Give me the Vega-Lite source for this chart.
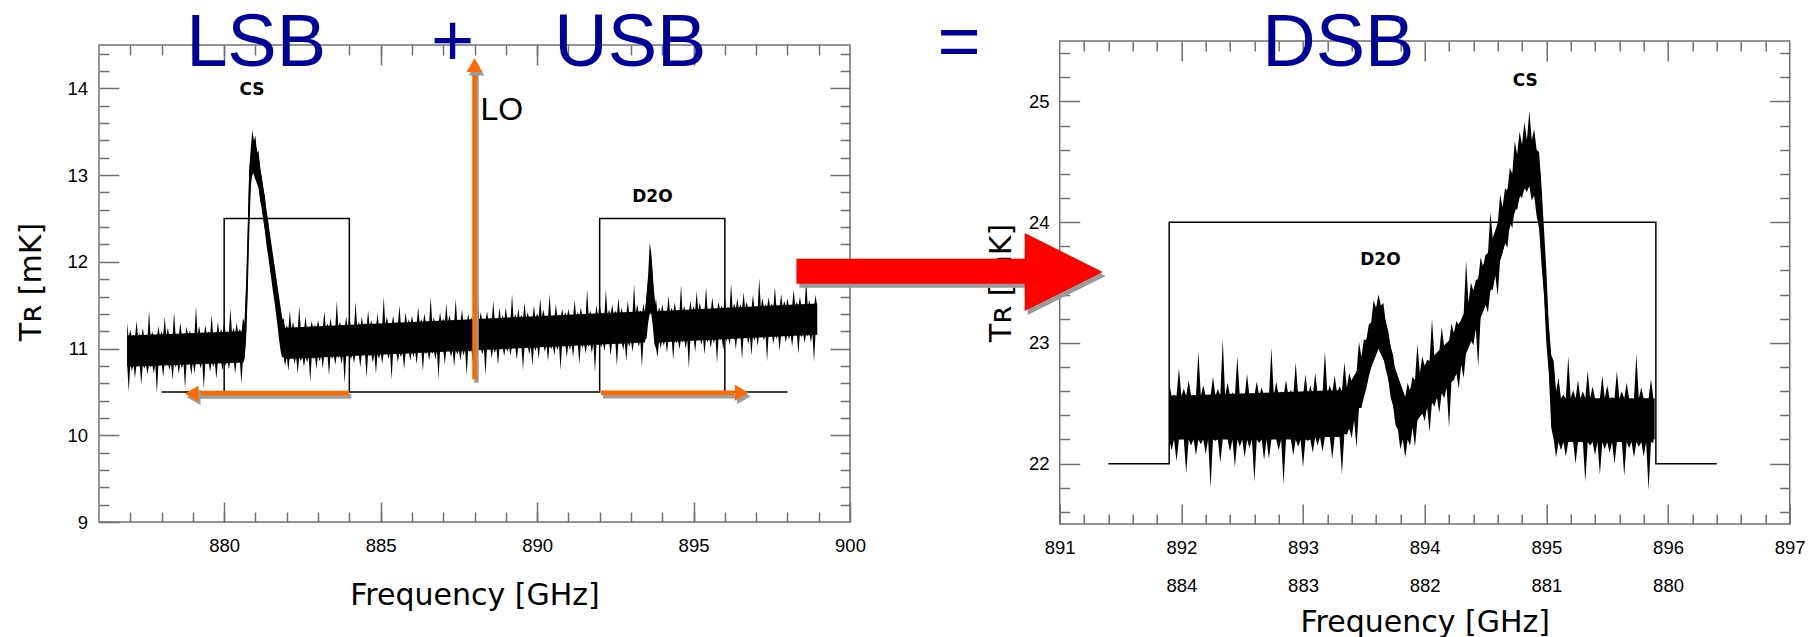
{
"$schema":"https://vega.github.io/schema/vega-lite/v6.json",
"background":"white",
"padding":{"left":16,"top":6,"right":0,"bottom":0},
"bounds":"flush",
"spacing":209.7,
"config":{
 "view":{"stroke":null},
 "axis":{"domain":false,"grid":false,"labelFont":"Liberation Sans","labelFontSize":18.5,"labelColor":"#000000","labelFlush":false,"labelOverlap":false,"tickColor":"#707070","tickWidth":1.5,"titleFont":"DejaVu Sans","titleFontSize":30,"titleFontWeight":"normal","titleColor":"#000000"}
},
"datasets":{
 "leftCore":[
{"f":876.9,"lo":10.79,"hi":11.15},{"f":880.62,"lo":10.84,"hi":11.2},{"f":880.66,"lo":10.9,"hi":11.3},{"f":880.72,"lo":11.35,"hi":11.85},{"f":880.8,"lo":12.55,"hi":13.05},{"f":880.86,"lo":12.95,"hi":13.3},{"f":880.95,"lo":13.05,"hi":13.42},{"f":881.1,"lo":12.88,"hi":13.22},{"f":881.85,"lo":11.02,"hi":11.36},{"f":881.95,"lo":10.88,"hi":11.24},{"f":893.45,"lo":11.07,"hi":11.43},{"f":893.55,"lo":11.45,"hi":11.8},{"f":893.63,"lo":11.7,"hi":12.1},{"f":893.7,"lo":11.4,"hi":11.8},{"f":893.8,"lo":11.07,"hi":11.43},{"f":898.95,"lo":11.16,"hi":11.52}
 ],
 "rightCore":[
{"f":891.9,"lo":22.2,"hi":22.56},{"f":893.35,"lo":22.25,"hi":22.61},{"f":893.45,"lo":22.42,"hi":22.78},{"f":893.55,"lo":22.77,"hi":23.13},{"f":893.62,"lo":22.95,"hi":23.31},{"f":893.68,"lo":22.82,"hi":23.18},{"f":893.75,"lo":22.44,"hi":22.81},{"f":893.84,"lo":22.19,"hi":22.55},{"f":893.95,"lo":22.38,"hi":22.74},{"f":894.1,"lo":22.54,"hi":22.92},{"f":894.2,"lo":22.64,"hi":23.02},{"f":894.3,"lo":22.81,"hi":23.19},{"f":894.4,"lo":23.06,"hi":23.44},{"f":894.5,"lo":23.31,"hi":23.69},{"f":894.6,"lo":23.61,"hi":23.99},{"f":894.7,"lo":23.96,"hi":24.34},{"f":894.8,"lo":24.26,"hi":24.64},{"f":894.86,"lo":24.31,"hi":24.69},{"f":894.92,"lo":24.18,"hi":24.56},{"f":894.95,"lo":23.89,"hi":24.41},{"f":894.98,"lo":23.44,"hi":23.81},{"f":895.01,"lo":22.94,"hi":23.26},{"f":895.05,"lo":22.34,"hi":22.71},{"f":895.1,"lo":22.2,"hi":22.54},{"f":895.89,"lo":22.2,"hi":22.54}
 ],
 "leftBand":[
{"f":876.9,"lo":10.82,"hi":11.3},{"f":876.95,"lo":10.5,"hi":11.12},
{"f":877,"lo":10.82,"hi":11.22},{"f":877.05,"lo":10.74,"hi":11.12},{"f":877.1,"lo":10.82,"hi":11.14},{"f":877.15,"lo":10.66,"hi":11.12},{"f":877.2,"lo":10.82,"hi":11.32},{"f":877.25,"lo":10.82,"hi":11.12},{"f":877.3,"lo":10.82,"hi":11.18},{"f":877.35,"lo":10.58,"hi":11.12},{"f":877.4,"lo":10.82,"hi":11.24},{"f":877.45,"lo":10.77,"hi":11.12},{"f":877.5,"lo":10.82,"hi":11.1},{"f":877.55,"lo":10.7,"hi":11.12},{"f":877.6,"lo":10.82,"hi":11.44},{"f":877.65,"lo":10.78,"hi":11.12},{"f":877.7,"lo":10.82,"hi":11.2},{"f":877.75,"lo":10.71,"hi":11.12},{"f":877.8,"lo":10.82,"hi":11.12},{"f":877.85,"lo":10.48,"hi":11.12},{"f":877.9,"lo":10.82,"hi":11.26},{"f":877.95,"lo":10.8,"hi":11.12},
{"f":878,"lo":10.84,"hi":11.2},{"f":878.05,"lo":10.67,"hi":11.14},{"f":878.1,"lo":10.84,"hi":11.37},{"f":878.15,"lo":10.84,"hi":11.14},{"f":878.2,"lo":10.84,"hi":11.24},{"f":878.25,"lo":10.75,"hi":11.14},{"f":878.3,"lo":10.84,"hi":11.17},{"f":878.35,"lo":10.64,"hi":11.14},{"f":878.4,"lo":10.84,"hi":11.42},{"f":878.45,"lo":10.78,"hi":11.14},{"f":878.5,"lo":10.84,"hi":11.15},{"f":878.55,"lo":10.71,"hi":11.14},{"f":878.6,"lo":10.84,"hi":11.3},{"f":878.65,"lo":10.77,"hi":11.14},{"f":878.7,"lo":10.84,"hi":11.14},{"f":878.75,"lo":10.54,"hi":11.14},{"f":878.8,"lo":10.84,"hi":11.25},{"f":878.85,"lo":10.81,"hi":11.14},{"f":878.9,"lo":10.84,"hi":11.21},{"f":878.95,"lo":10.69,"hi":11.14},
{"f":879,"lo":10.85,"hi":11.17},{"f":879.05,"lo":10.71,"hi":11.15},{"f":879.1,"lo":10.85,"hi":11.49},{"f":879.15,"lo":10.85,"hi":11.15},{"f":879.2,"lo":10.85,"hi":11.26},{"f":879.25,"lo":10.77,"hi":11.15},{"f":879.3,"lo":10.85,"hi":11.19},{"f":879.35,"lo":10.53,"hi":11.15},{"f":879.4,"lo":10.85,"hi":11.27},{"f":879.45,"lo":10.85,"hi":11.15},{"f":879.5,"lo":10.85,"hi":11.2},{"f":879.55,"lo":10.73,"hi":11.15},{"f":879.6,"lo":10.85,"hi":11.39},{"f":879.65,"lo":10.79,"hi":11.15},{"f":879.7,"lo":10.85,"hi":11.15},{"f":879.75,"lo":10.65,"hi":11.15},{"f":879.8,"lo":10.85,"hi":11.31},{"f":879.85,"lo":10.83,"hi":11.15},{"f":879.9,"lo":10.85,"hi":11.23},{"f":879.95,"lo":10.75,"hi":11.15},
{"f":880,"lo":10.87,"hi":11.32},{"f":880.05,"lo":10.8,"hi":11.17},{"f":880.1,"lo":10.87,"hi":11.2},{"f":880.15,"lo":10.76,"hi":11.17},{"f":880.2,"lo":10.87,"hi":11.47},{"f":880.25,"lo":10.87,"hi":11.17},{"f":880.3,"lo":10.87,"hi":11.24},{"f":880.35,"lo":10.71,"hi":11.17},{"f":880.4,"lo":10.87,"hi":11.3},{"f":880.45,"lo":10.86,"hi":11.17},{"f":880.5,"lo":10.87,"hi":11.23},{"f":880.55,"lo":10.59,"hi":11.17},
{"f":880.6,"lo":10.87,"hi":11.35},{"f":880.65,"lo":10.9,"hi":11.3},{"f":880.7,"lo":11.1,"hi":11.75},{"f":880.75,"lo":11.6,"hi":12.35},{"f":880.8,"lo":12.3,"hi":13.05},{"f":880.85,"lo":12.85,"hi":13.3},{"f":880.9,"lo":13.05,"hi":13.52},{"f":880.95,"lo":13.0,"hi":13.4},
{"f":881,"lo":12.95,"hi":13.45},{"f":881.05,"lo":12.9,"hi":13.25},{"f":881.1,"lo":12.85,"hi":13.28},{"f":881.15,"lo":12.7,"hi":13.05},{"f":881.2,"lo":12.62,"hi":12.98},{"f":881.25,"lo":12.48,"hi":12.85},{"f":881.3,"lo":12.36,"hi":12.76},{"f":881.35,"lo":12.2,"hi":12.58},{"f":881.4,"lo":12.08,"hi":12.48},{"f":881.45,"lo":11.95,"hi":12.3},{"f":881.5,"lo":11.82,"hi":12.2},{"f":881.55,"lo":11.68,"hi":12.05},{"f":881.6,"lo":11.56,"hi":11.97},{"f":881.65,"lo":11.42,"hi":11.8},{"f":881.7,"lo":11.28,"hi":11.7},{"f":881.75,"lo":11.12,"hi":11.55},{"f":881.8,"lo":10.98,"hi":11.45},{"f":881.85,"lo":10.9,"hi":11.32},{"f":881.9,"lo":10.9,"hi":11.35},{"f":881.95,"lo":10.8,"hi":11.21},
{"f":882,"lo":10.91,"hi":11.27},{"f":882.05,"lo":10.74,"hi":11.21},{"f":882.1,"lo":10.91,"hi":11.44},{"f":882.15,"lo":10.91,"hi":11.21},{"f":882.2,"lo":10.91,"hi":11.31},{"f":882.25,"lo":10.82,"hi":11.21},{"f":882.3,"lo":10.91,"hi":11.24},{"f":882.35,"lo":10.71,"hi":11.21},{"f":882.4,"lo":10.91,"hi":11.49},{"f":882.45,"lo":10.85,"hi":11.21},{"f":882.5,"lo":10.91,"hi":11.22},{"f":882.55,"lo":10.78,"hi":11.21},{"f":882.6,"lo":10.91,"hi":11.37},{"f":882.65,"lo":10.84,"hi":11.21},{"f":882.7,"lo":10.91,"hi":11.21},{"f":882.75,"lo":10.61,"hi":11.21},{"f":882.8,"lo":10.91,"hi":11.32},{"f":882.85,"lo":10.88,"hi":11.21},{"f":882.9,"lo":10.91,"hi":11.28},{"f":882.95,"lo":10.76,"hi":11.21},
{"f":883,"lo":10.93,"hi":11.33},{"f":883.05,"lo":10.85,"hi":11.23},{"f":883.1,"lo":10.93,"hi":11.25},{"f":883.15,"lo":10.77,"hi":11.23},{"f":883.2,"lo":10.93,"hi":11.43},{"f":883.25,"lo":10.93,"hi":11.23},{"f":883.3,"lo":10.93,"hi":11.29},{"f":883.35,"lo":10.69,"hi":11.23},{"f":883.4,"lo":10.93,"hi":11.35},{"f":883.45,"lo":10.88,"hi":11.23},{"f":883.5,"lo":10.93,"hi":11.23},{"f":883.55,"lo":10.81,"hi":11.23},{"f":883.6,"lo":10.93,"hi":11.55},{"f":883.65,"lo":10.89,"hi":11.23},{"f":883.7,"lo":10.93,"hi":11.31},{"f":883.75,"lo":10.82,"hi":11.23},{"f":883.8,"lo":10.93,"hi":11.23},{"f":883.85,"lo":10.59,"hi":11.23},{"f":883.9,"lo":10.93,"hi":11.37},{"f":883.95,"lo":10.91,"hi":11.23},
{"f":884,"lo":10.94,"hi":11.39},{"f":884.05,"lo":10.87,"hi":11.24},{"f":884.1,"lo":10.94,"hi":11.27},{"f":884.15,"lo":10.83,"hi":11.24},{"f":884.2,"lo":10.94,"hi":11.54},{"f":884.25,"lo":10.94,"hi":11.24},{"f":884.3,"lo":10.94,"hi":11.31},{"f":884.35,"lo":10.78,"hi":11.24},{"f":884.4,"lo":10.94,"hi":11.37},{"f":884.45,"lo":10.93,"hi":11.24},{"f":884.5,"lo":10.94,"hi":11.3},{"f":884.55,"lo":10.66,"hi":11.24},{"f":884.6,"lo":10.94,"hi":11.44},{"f":884.65,"lo":10.91,"hi":11.24},{"f":884.7,"lo":10.94,"hi":11.33},{"f":884.75,"lo":10.84,"hi":11.24},{"f":884.8,"lo":10.94,"hi":11.24},{"f":884.85,"lo":10.71,"hi":11.24},{"f":884.9,"lo":10.94,"hi":11.41},{"f":884.95,"lo":10.88,"hi":11.24},
{"f":885,"lo":10.96,"hi":11.28},{"f":885.05,"lo":10.82,"hi":11.26},{"f":885.1,"lo":10.96,"hi":11.6},{"f":885.15,"lo":10.96,"hi":11.26},{"f":885.2,"lo":10.96,"hi":11.37},{"f":885.25,"lo":10.88,"hi":11.26},{"f":885.3,"lo":10.96,"hi":11.3},{"f":885.35,"lo":10.64,"hi":11.26},{"f":885.4,"lo":10.96,"hi":11.38},{"f":885.45,"lo":10.96,"hi":11.26},{"f":885.5,"lo":10.96,"hi":11.31},{"f":885.55,"lo":10.84,"hi":11.26},{"f":885.6,"lo":10.96,"hi":11.5},{"f":885.65,"lo":10.9,"hi":11.26},{"f":885.7,"lo":10.96,"hi":11.26},{"f":885.75,"lo":10.76,"hi":11.26},{"f":885.8,"lo":10.96,"hi":11.42},{"f":885.85,"lo":10.94,"hi":11.26},{"f":885.9,"lo":10.96,"hi":11.34},{"f":885.95,"lo":10.86,"hi":11.26},
{"f":886,"lo":10.98,"hi":11.38},{"f":886.05,"lo":10.9,"hi":11.28},{"f":886.1,"lo":10.98,"hi":11.3},{"f":886.15,"lo":10.82,"hi":11.28},{"f":886.2,"lo":10.98,"hi":11.48},{"f":886.25,"lo":10.98,"hi":11.28},{"f":886.3,"lo":10.98,"hi":11.34},{"f":886.35,"lo":10.74,"hi":11.28},{"f":886.4,"lo":10.98,"hi":11.4},{"f":886.45,"lo":10.93,"hi":11.28},{"f":886.5,"lo":10.98,"hi":11.28},{"f":886.55,"lo":10.86,"hi":11.28},{"f":886.6,"lo":10.98,"hi":11.6},{"f":886.65,"lo":10.94,"hi":11.28},{"f":886.7,"lo":10.98,"hi":11.36},{"f":886.75,"lo":10.87,"hi":11.28},{"f":886.8,"lo":10.98,"hi":11.28},{"f":886.85,"lo":10.64,"hi":11.28},{"f":886.9,"lo":10.98,"hi":11.42},{"f":886.95,"lo":10.96,"hi":11.28},
{"f":887,"lo":10.99,"hi":11.35},{"f":887.05,"lo":10.82,"hi":11.29},{"f":887.1,"lo":10.99,"hi":11.52},{"f":887.15,"lo":10.99,"hi":11.29},{"f":887.2,"lo":10.99,"hi":11.39},{"f":887.25,"lo":10.9,"hi":11.29},{"f":887.3,"lo":10.99,"hi":11.32},{"f":887.35,"lo":10.79,"hi":11.29},{"f":887.4,"lo":10.99,"hi":11.57},{"f":887.45,"lo":10.93,"hi":11.29},{"f":887.5,"lo":10.99,"hi":11.3},{"f":887.55,"lo":10.86,"hi":11.29},{"f":887.6,"lo":10.99,"hi":11.45},{"f":887.65,"lo":10.92,"hi":11.29},{"f":887.7,"lo":10.99,"hi":11.29},{"f":887.75,"lo":10.69,"hi":11.29},{"f":887.8,"lo":10.99,"hi":11.4},{"f":887.85,"lo":10.96,"hi":11.29},{"f":887.9,"lo":10.99,"hi":11.36},{"f":887.95,"lo":10.84,"hi":11.29},
{"f":888,"lo":11.01,"hi":11.33},{"f":888.05,"lo":10.87,"hi":11.31},{"f":888.1,"lo":11.01,"hi":11.65},{"f":888.15,"lo":11.01,"hi":11.31},{"f":888.2,"lo":11.01,"hi":11.42},{"f":888.25,"lo":10.93,"hi":11.31},{"f":888.3,"lo":11.01,"hi":11.35},{"f":888.35,"lo":10.69,"hi":11.31},{"f":888.4,"lo":11.01,"hi":11.43},{"f":888.45,"lo":11.01,"hi":11.31},{"f":888.5,"lo":11.01,"hi":11.36},{"f":888.55,"lo":10.89,"hi":11.31},{"f":888.6,"lo":11.01,"hi":11.55},{"f":888.65,"lo":10.95,"hi":11.31},{"f":888.7,"lo":11.01,"hi":11.31},{"f":888.75,"lo":10.81,"hi":11.31},{"f":888.8,"lo":11.01,"hi":11.47},{"f":888.85,"lo":10.99,"hi":11.31},{"f":888.9,"lo":11.01,"hi":11.39},{"f":888.95,"lo":10.91,"hi":11.31},
{"f":889,"lo":11.03,"hi":11.48},{"f":889.05,"lo":10.96,"hi":11.33},{"f":889.1,"lo":11.03,"hi":11.36},{"f":889.15,"lo":10.92,"hi":11.33},{"f":889.2,"lo":11.03,"hi":11.63},{"f":889.25,"lo":11.03,"hi":11.33},{"f":889.3,"lo":11.03,"hi":11.4},{"f":889.35,"lo":10.87,"hi":11.33},{"f":889.4,"lo":11.03,"hi":11.46},{"f":889.45,"lo":11.02,"hi":11.33},{"f":889.5,"lo":11.03,"hi":11.39},{"f":889.55,"lo":10.75,"hi":11.33},{"f":889.6,"lo":11.03,"hi":11.53},{"f":889.65,"lo":11.0,"hi":11.33},{"f":889.7,"lo":11.03,"hi":11.42},{"f":889.75,"lo":10.93,"hi":11.33},{"f":889.8,"lo":11.03,"hi":11.33},{"f":889.85,"lo":10.8,"hi":11.33},{"f":889.9,"lo":11.03,"hi":11.5},{"f":889.95,"lo":10.97,"hi":11.33},
{"f":890,"lo":11.05,"hi":11.41},{"f":890.05,"lo":10.88,"hi":11.35},{"f":890.1,"lo":11.05,"hi":11.58},{"f":890.15,"lo":11.05,"hi":11.35},{"f":890.2,"lo":11.05,"hi":11.45},{"f":890.25,"lo":10.96,"hi":11.35},{"f":890.3,"lo":11.05,"hi":11.38},{"f":890.35,"lo":10.85,"hi":11.35},{"f":890.4,"lo":11.05,"hi":11.63},{"f":890.45,"lo":10.99,"hi":11.35},{"f":890.5,"lo":11.05,"hi":11.36},{"f":890.55,"lo":10.92,"hi":11.35},{"f":890.6,"lo":11.05,"hi":11.51},{"f":890.65,"lo":10.98,"hi":11.35},{"f":890.7,"lo":11.05,"hi":11.35},{"f":890.75,"lo":10.75,"hi":11.35},{"f":890.8,"lo":11.05,"hi":11.46},{"f":890.85,"lo":11.02,"hi":11.35},{"f":890.9,"lo":11.05,"hi":11.42},{"f":890.95,"lo":10.9,"hi":11.35},
{"f":891,"lo":11.06,"hi":11.46},{"f":891.05,"lo":10.98,"hi":11.36},{"f":891.1,"lo":11.06,"hi":11.38},{"f":891.15,"lo":10.9,"hi":11.36},{"f":891.2,"lo":11.06,"hi":11.56},{"f":891.25,"lo":11.06,"hi":11.36},{"f":891.3,"lo":11.06,"hi":11.42},{"f":891.35,"lo":10.82,"hi":11.36},{"f":891.4,"lo":11.06,"hi":11.48},{"f":891.45,"lo":11.01,"hi":11.36},{"f":891.5,"lo":11.06,"hi":11.36},{"f":891.55,"lo":10.94,"hi":11.36},{"f":891.6,"lo":11.06,"hi":11.68},{"f":891.65,"lo":11.02,"hi":11.36},{"f":891.7,"lo":11.06,"hi":11.44},{"f":891.75,"lo":10.95,"hi":11.36},{"f":891.8,"lo":11.06,"hi":11.36},{"f":891.85,"lo":10.72,"hi":11.36},{"f":891.9,"lo":11.06,"hi":11.5},{"f":891.95,"lo":11.04,"hi":11.36},
{"f":892,"lo":11.08,"hi":11.53},{"f":892.05,"lo":11.01,"hi":11.38},{"f":892.1,"lo":11.08,"hi":11.41},{"f":892.15,"lo":10.97,"hi":11.38},{"f":892.2,"lo":11.08,"hi":11.68},{"f":892.25,"lo":11.08,"hi":11.38},{"f":892.3,"lo":11.08,"hi":11.45},{"f":892.35,"lo":10.92,"hi":11.38},{"f":892.4,"lo":11.08,"hi":11.51},{"f":892.45,"lo":11.07,"hi":11.38},{"f":892.5,"lo":11.08,"hi":11.44},{"f":892.55,"lo":10.8,"hi":11.38},{"f":892.6,"lo":11.08,"hi":11.58},{"f":892.65,"lo":11.05,"hi":11.38},{"f":892.7,"lo":11.08,"hi":11.47},{"f":892.75,"lo":10.98,"hi":11.38},{"f":892.8,"lo":11.08,"hi":11.38},{"f":892.85,"lo":10.85,"hi":11.38},{"f":892.9,"lo":11.08,"hi":11.55},{"f":892.95,"lo":11.02,"hi":11.38},
{"f":893,"lo":11.1,"hi":11.42},{"f":893.05,"lo":10.96,"hi":11.4},{"f":893.1,"lo":11.1,"hi":11.74},{"f":893.15,"lo":11.1,"hi":11.4},{"f":893.2,"lo":11.1,"hi":11.51},{"f":893.25,"lo":11.02,"hi":11.4},{"f":893.3,"lo":11.1,"hi":11.44},{"f":893.35,"lo":10.78,"hi":11.4},{"f":893.4,"lo":11.1,"hi":11.52},{"f":893.45,"lo":11.1,"hi":11.4},{"f":893.5,"lo":11.12,"hi":11.62},{"f":893.55,"lo":11.3,"hi":11.85},{"f":893.6,"lo":11.4,"hi":12.22},{"f":893.65,"lo":11.4,"hi":12.1},{"f":893.7,"lo":11.25,"hi":11.85},{"f":893.75,"lo":11.05,"hi":11.45},{"f":893.8,"lo":11.0,"hi":11.58},{"f":893.85,"lo":10.9,"hi":11.4},{"f":893.9,"lo":11.1,"hi":11.48},{"f":893.95,"lo":11.0,"hi":11.4},
{"f":894,"lo":11.11,"hi":11.51},{"f":894.05,"lo":11.03,"hi":11.41},{"f":894.1,"lo":11.11,"hi":11.43},{"f":894.15,"lo":10.95,"hi":11.41},{"f":894.2,"lo":11.11,"hi":11.61},{"f":894.25,"lo":11.11,"hi":11.41},{"f":894.3,"lo":11.11,"hi":11.47},{"f":894.35,"lo":10.87,"hi":11.41},{"f":894.4,"lo":11.11,"hi":11.53},{"f":894.45,"lo":11.06,"hi":11.41},{"f":894.5,"lo":11.11,"hi":11.41},{"f":894.55,"lo":10.99,"hi":11.41},{"f":894.6,"lo":11.11,"hi":11.73},{"f":894.65,"lo":11.07,"hi":11.41},{"f":894.7,"lo":11.11,"hi":11.49},{"f":894.75,"lo":11.0,"hi":11.41},{"f":894.8,"lo":11.11,"hi":11.41},{"f":894.85,"lo":10.77,"hi":11.41},{"f":894.9,"lo":11.11,"hi":11.55},{"f":894.95,"lo":11.09,"hi":11.41},
{"f":895,"lo":11.13,"hi":11.49},{"f":895.05,"lo":10.96,"hi":11.43},{"f":895.1,"lo":11.13,"hi":11.66},{"f":895.15,"lo":11.13,"hi":11.43},{"f":895.2,"lo":11.13,"hi":11.53},{"f":895.25,"lo":11.04,"hi":11.43},{"f":895.3,"lo":11.13,"hi":11.46},{"f":895.35,"lo":10.93,"hi":11.43},{"f":895.4,"lo":11.13,"hi":11.71},{"f":895.45,"lo":11.07,"hi":11.43},{"f":895.5,"lo":11.13,"hi":11.44},{"f":895.55,"lo":11.0,"hi":11.43},{"f":895.6,"lo":11.13,"hi":11.59},{"f":895.65,"lo":11.06,"hi":11.43},{"f":895.7,"lo":11.13,"hi":11.43},{"f":895.75,"lo":10.83,"hi":11.43},{"f":895.8,"lo":11.13,"hi":11.54},{"f":895.85,"lo":11.1,"hi":11.43},{"f":895.9,"lo":11.13,"hi":11.5},{"f":895.95,"lo":10.98,"hi":11.43},
{"f":896,"lo":11.15,"hi":11.6},{"f":896.05,"lo":11.08,"hi":11.45},{"f":896.1,"lo":11.15,"hi":11.48},{"f":896.15,"lo":11.04,"hi":11.45},{"f":896.2,"lo":11.15,"hi":11.75},{"f":896.25,"lo":11.15,"hi":11.45},{"f":896.3,"lo":11.15,"hi":11.52},{"f":896.35,"lo":10.99,"hi":11.45},{"f":896.4,"lo":11.15,"hi":11.58},{"f":896.45,"lo":11.14,"hi":11.45},{"f":896.5,"lo":11.15,"hi":11.51},{"f":896.55,"lo":10.87,"hi":11.45},{"f":896.6,"lo":11.15,"hi":11.65},{"f":896.65,"lo":11.12,"hi":11.45},{"f":896.7,"lo":11.15,"hi":11.54},{"f":896.75,"lo":11.05,"hi":11.45},{"f":896.8,"lo":11.15,"hi":11.45},{"f":896.85,"lo":10.92,"hi":11.45},{"f":896.9,"lo":11.15,"hi":11.62},{"f":896.95,"lo":11.09,"hi":11.45},
{"f":897,"lo":11.17,"hi":11.49},{"f":897.05,"lo":11.03,"hi":11.47},{"f":897.1,"lo":11.17,"hi":11.81},{"f":897.15,"lo":11.17,"hi":11.47},{"f":897.2,"lo":11.17,"hi":11.58},{"f":897.25,"lo":11.09,"hi":11.47},{"f":897.3,"lo":11.17,"hi":11.51},{"f":897.35,"lo":10.85,"hi":11.47},{"f":897.4,"lo":11.17,"hi":11.59},{"f":897.45,"lo":11.17,"hi":11.47},{"f":897.5,"lo":11.17,"hi":11.52},{"f":897.55,"lo":11.05,"hi":11.47},{"f":897.6,"lo":11.17,"hi":11.71},{"f":897.65,"lo":11.11,"hi":11.47},{"f":897.7,"lo":11.17,"hi":11.47},{"f":897.75,"lo":10.97,"hi":11.47},{"f":897.8,"lo":11.17,"hi":11.63},{"f":897.85,"lo":11.15,"hi":11.47},{"f":897.9,"lo":11.17,"hi":11.55},{"f":897.95,"lo":11.07,"hi":11.47},
{"f":898,"lo":11.18,"hi":11.58},{"f":898.05,"lo":11.1,"hi":11.48},{"f":898.1,"lo":11.18,"hi":11.5},{"f":898.15,"lo":11.02,"hi":11.48},{"f":898.2,"lo":11.18,"hi":11.68},{"f":898.25,"lo":11.18,"hi":11.48},{"f":898.3,"lo":11.18,"hi":11.54},{"f":898.35,"lo":10.94,"hi":11.48},{"f":898.4,"lo":11.18,"hi":11.6},{"f":898.45,"lo":11.13,"hi":11.48},{"f":898.5,"lo":11.18,"hi":11.48},{"f":898.55,"lo":11.06,"hi":11.48},{"f":898.6,"lo":11.18,"hi":11.8},{"f":898.65,"lo":11.14,"hi":11.48},{"f":898.7,"lo":11.18,"hi":11.56},{"f":898.75,"lo":11.07,"hi":11.48},{"f":898.8,"lo":11.18,"hi":11.48},{"f":898.85,"lo":10.84,"hi":11.48},{"f":898.9,"lo":11.18,"hi":11.62},{"f":898.95,"lo":11.16,"hi":11.48}
 ],
 "rightBand":[
{"f":891.9,"lo":22.2,"hi":22.67},{"f":891.92,"lo":22.11,"hi":22.56},{"f":891.94,"lo":22.2,"hi":22.57},{"f":891.96,"lo":22.02,"hi":22.56},{"f":891.98,"lo":22.2,"hi":22.79},{"f":892,"lo":22.2,"hi":22.56},{"f":892.02,"lo":22.2,"hi":22.62},{"f":892.04,"lo":21.92,"hi":22.56},{"f":892.06,"lo":22.2,"hi":22.69},{"f":892.08,"lo":22.15,"hi":22.56},{"f":892.1,"lo":22.2,"hi":22.56},{"f":892.12,"lo":22.07,"hi":22.56},{"f":892.14,"lo":22.2,"hi":22.93},{"f":892.16,"lo":22.16,"hi":22.56},{"f":892.18,"lo":22.2,"hi":22.65},{"f":892.2,"lo":22.08,"hi":22.56},{"f":892.22,"lo":22.2,"hi":22.56},{"f":892.24,"lo":21.8,"hi":22.56},{"f":892.26,"lo":22.2,"hi":22.72},{"f":892.28,"lo":22.19,"hi":22.56},
{"f":892.3,"lo":22.2,"hi":22.62},{"f":892.32,"lo":22.01,"hi":22.56},{"f":892.34,"lo":22.2,"hi":23.03},{"f":892.36,"lo":22.2,"hi":22.56},{"f":892.38,"lo":22.2,"hi":22.67},{"f":892.4,"lo":22.1,"hi":22.56},{"f":892.42,"lo":22.2,"hi":22.59},{"f":892.44,"lo":21.97,"hi":22.56},{"f":892.46,"lo":22.2,"hi":22.89},{"f":892.48,"lo":22.14,"hi":22.56},{"f":892.5,"lo":22.2,"hi":22.56},{"f":892.52,"lo":22.05,"hi":22.56},{"f":892.54,"lo":22.2,"hi":22.74},{"f":892.56,"lo":22.13,"hi":22.56},{"f":892.58,"lo":22.2,"hi":22.56},{"f":892.6,"lo":21.85,"hi":22.56},{"f":892.62,"lo":22.2,"hi":22.68},{"f":892.64,"lo":22.17,"hi":22.56},{"f":892.66,"lo":22.2,"hi":22.63},{"f":892.68,"lo":22.03,"hi":22.56},
{"f":892.7,"lo":22.2,"hi":22.57},{"f":892.72,"lo":22.04,"hi":22.56},{"f":892.74,"lo":22.2,"hi":22.96},{"f":892.76,"lo":22.2,"hi":22.56},{"f":892.78,"lo":22.2,"hi":22.68},{"f":892.8,"lo":22.11,"hi":22.56},{"f":892.82,"lo":22.2,"hi":22.6},{"f":892.84,"lo":21.83,"hi":22.56},{"f":892.86,"lo":22.2,"hi":22.69},{"f":892.88,"lo":22.2,"hi":22.56},{"f":892.9,"lo":22.2,"hi":22.61},{"f":892.92,"lo":22.07,"hi":22.56},{"f":892.94,"lo":22.2,"hi":22.84},{"f":892.96,"lo":22.14,"hi":22.56},{"f":892.98,"lo":22.2,"hi":22.56},{"f":893,"lo":21.97,"hi":22.56},{"f":893.02,"lo":22.2,"hi":22.74},{"f":893.04,"lo":22.19,"hi":22.56},{"f":893.06,"lo":22.2,"hi":22.65},{"f":893.08,"lo":22.09,"hi":22.56},
{"f":893.1,"lo":22.22,"hi":22.75},{"f":893.12,"lo":22.15,"hi":22.58},{"f":893.14,"lo":22.22,"hi":22.61},{"f":893.16,"lo":22.1,"hi":22.58},{"f":893.18,"lo":22.22,"hi":22.93},{"f":893.2,"lo":22.22,"hi":22.58},{"f":893.22,"lo":22.22,"hi":22.65},{"f":893.24,"lo":22.04,"hi":22.58},{"f":893.26,"lo":22.22,"hi":22.73},{"f":893.28,"lo":22.22,"hi":22.58},{"f":893.3,"lo":22.22,"hi":22.64},{"f":893.32,"lo":21.91,"hi":22.6},{"f":893.34,"lo":22.25,"hi":22.84},{"f":893.36,"lo":22.24,"hi":22.63},{"f":893.38,"lo":22.29,"hi":22.75},{"f":893.4,"lo":22.21,"hi":22.68},{"f":893.42,"lo":22.36,"hi":22.72},{"f":893.44,"lo":22.13,"hi":22.76},{"f":893.46,"lo":22.46,"hi":23.01},{"f":893.48,"lo":22.46,"hi":22.88},
{"f":893.5,"lo":22.55,"hi":23.03},{"f":893.52,"lo":22.62,"hi":23.02},{"f":893.54,"lo":22.72,"hi":23.15},{"f":893.56,"lo":22.8,"hi":23.17},{"f":893.58,"lo":22.88,"hi":23.35},{"f":893.6,"lo":22.92,"hi":23.29},{"f":893.62,"lo":22.96,"hi":23.4},{"f":893.64,"lo":22.93,"hi":23.31},{"f":893.66,"lo":22.88,"hi":23.33},{"f":893.68,"lo":22.78,"hi":23.17},{"f":893.7,"lo":22.7,"hi":23.1},{"f":893.72,"lo":22.55,"hi":22.97},{"f":893.74,"lo":22.48,"hi":22.9},{"f":893.76,"lo":22.32,"hi":22.74},{"f":893.78,"lo":22.28,"hi":22.7},{"f":893.8,"lo":22.12,"hi":22.6},{"f":893.82,"lo":22.2,"hi":22.6},{"f":893.84,"lo":22.05,"hi":22.55},{"f":893.86,"lo":22.2,"hi":22.67},{"f":893.88,"lo":22.15,"hi":22.6},
{"f":893.9,"lo":22.3,"hi":22.72},{"f":893.92,"lo":22.14,"hi":22.69},{"f":893.94,"lo":22.36,"hi":22.99},{"f":893.96,"lo":22.39,"hi":22.75},{"f":893.98,"lo":22.42,"hi":22.89},{"f":894,"lo":22.35,"hi":22.81},{"f":894.02,"lo":22.47,"hi":22.86},{"f":894.04,"lo":22.26,"hi":22.85},{"f":894.06,"lo":22.51,"hi":23.2},{"f":894.08,"lo":22.47,"hi":22.89},{"f":894.1,"lo":22.55,"hi":22.91},{"f":894.12,"lo":22.42,"hi":22.93},{"f":894.14,"lo":22.59,"hi":23.13},{"f":894.16,"lo":22.54,"hi":22.97},{"f":894.18,"lo":22.63,"hi":22.99},{"f":894.2,"lo":22.3,"hi":23.01},{"f":894.22,"lo":22.68,"hi":23.16},{"f":894.24,"lo":22.69,"hi":23.08},{"f":894.26,"lo":22.75,"hi":23.18},{"f":894.28,"lo":22.62,"hi":23.15},
{"f":894.3,"lo":22.82,"hi":23.19},{"f":894.32,"lo":22.71,"hi":23.23},{"f":894.34,"lo":22.92,"hi":23.68},{"f":894.36,"lo":22.97,"hi":23.33},{"f":894.38,"lo":23.02,"hi":23.5},{"f":894.4,"lo":22.98,"hi":23.43},{"f":894.42,"lo":23.12,"hi":23.52},{"f":894.44,"lo":22.8,"hi":23.53},{"f":894.46,"lo":23.22,"hi":23.71},{"f":894.48,"lo":23.27,"hi":23.63},{"f":894.5,"lo":23.32,"hi":23.73},{"f":894.52,"lo":23.25,"hi":23.74},{"f":894.54,"lo":23.44,"hi":24.08},{"f":894.56,"lo":23.44,"hi":23.86},{"f":894.58,"lo":23.56,"hi":23.92},{"f":894.6,"lo":23.39,"hi":23.98},{"f":894.62,"lo":23.69,"hi":24.23},{"f":894.64,"lo":23.75,"hi":24.12},{"f":894.66,"lo":23.83,"hi":24.28},{"f":894.68,"lo":23.79,"hi":24.26},
{"f":894.7,"lo":24.0,"hi":24.45},{"f":894.72,"lo":23.95,"hi":24.4},{"f":894.74,"lo":24.12,"hi":24.67},{"f":894.76,"lo":24.1,"hi":24.56},{"f":894.78,"lo":24.22,"hi":24.75},{"f":894.8,"lo":24.2,"hi":24.64},{"f":894.82,"lo":24.28,"hi":24.83},{"f":894.84,"lo":24.25,"hi":24.68},{"f":894.86,"lo":24.3,"hi":24.92},{"f":894.88,"lo":24.18,"hi":24.68},{"f":894.9,"lo":24.22,"hi":24.77},{"f":894.92,"lo":24.05,"hi":24.6},{"f":894.94,"lo":23.95,"hi":24.58},{"f":894.96,"lo":23.65,"hi":24.3},{"f":894.98,"lo":23.4,"hi":23.95},{"f":895,"lo":23.0,"hi":23.6},{"f":895.02,"lo":22.75,"hi":23.15},{"f":895.04,"lo":22.3,"hi":22.9},{"f":895.06,"lo":22.2,"hi":22.85},{"f":895.08,"lo":22.05,"hi":22.6},
{"f":895.1,"lo":22.18,"hi":22.71},{"f":895.12,"lo":22.11,"hi":22.54},{"f":895.14,"lo":22.18,"hi":22.57},{"f":895.16,"lo":22.06,"hi":22.54},{"f":895.18,"lo":22.18,"hi":22.89},{"f":895.2,"lo":22.18,"hi":22.54},{"f":895.22,"lo":22.18,"hi":22.61},{"f":895.24,"lo":22.0,"hi":22.54},{"f":895.26,"lo":22.18,"hi":22.69},{"f":895.28,"lo":22.18,"hi":22.54},{"f":895.3,"lo":22.18,"hi":22.6},{"f":895.32,"lo":21.85,"hi":22.54},{"f":895.34,"lo":22.18,"hi":22.77},{"f":895.36,"lo":22.15,"hi":22.54},{"f":895.38,"lo":22.18,"hi":22.64},{"f":895.4,"lo":22.07,"hi":22.54},{"f":895.42,"lo":22.18,"hi":22.54},{"f":895.44,"lo":21.91,"hi":22.54},{"f":895.46,"lo":22.18,"hi":22.73},{"f":895.48,"lo":22.12,"hi":22.54},
{"f":895.5,"lo":22.18,"hi":22.65},{"f":895.52,"lo":22.09,"hi":22.54},{"f":895.54,"lo":22.18,"hi":22.55},{"f":895.56,"lo":22.0,"hi":22.54},{"f":895.58,"lo":22.18,"hi":22.77},{"f":895.6,"lo":22.18,"hi":22.54},{"f":895.62,"lo":22.18,"hi":22.6},{"f":895.64,"lo":21.9,"hi":22.54},{"f":895.66,"lo":22.18,"hi":22.67},{"f":895.68,"lo":22.13,"hi":22.54},{"f":895.7,"lo":22.18,"hi":22.54},{"f":895.72,"lo":22.05,"hi":22.54},{"f":895.74,"lo":22.18,"hi":22.91},{"f":895.76,"lo":22.14,"hi":22.54},{"f":895.78,"lo":22.18,"hi":22.63},{"f":895.8,"lo":22.06,"hi":22.54},{"f":895.82,"lo":22.18,"hi":22.54},{"f":895.84,"lo":21.78,"hi":22.54},{"f":895.86,"lo":22.18,"hi":22.7},{"f":895.88,"lo":22.17,"hi":22.54}
 ],
 "leftBox":[
{"i":0,"f":878,"t":10.5},{"i":1,"f":880,"t":10.5},{"i":2,"f":880,"t":12.5},{"i":3,"f":884,"t":12.5},{"i":4,"f":884,"t":10.5},{"i":5,"f":892,"t":10.5},{"i":6,"f":892,"t":12.5},{"i":7,"f":896,"t":12.5},{"i":8,"f":896,"t":10.5},{"i":9,"f":898,"t":10.5}
 ],
 "rightBox":[
{"i":0,"f":891.4,"t":22},{"i":1,"f":891.9,"t":22},{"i":2,"f":891.9,"t":24},{"i":3,"f":895.9,"t":24},{"i":4,"f":895.9,"t":22},{"i":5,"f":896.4,"t":22}
 ],
 "leftArrows":[
{"f":888,"f2":888,"t":10.645,"t2":14.2},{"f":879.15,"f2":884.0,"t":10.487,"t2":10.487},{"f":892.04,"f2":896.3,"t":10.49,"t2":10.49}
 ],
 "leftHeads":[
{"f":888,"t":14.267,"dir":"up"},{"f":878.96,"t":10.48,"dir":"left"},{"f":896.54,"t":10.49,"dir":"right"}
 ],
 "redShaft":[{"f":888.836,"f2":890.72,"t":23.49,"t2":23.697}],
 "redHead":[{"f":891.033,"t":23.587}]
},
"hconcat":[
{
 "width":751,"height":481,
 "resolve":{"axis":{"x":"independent","y":"independent"}},
 "layer":[
  {"data":{"values":[{"f":876,"f2":900,"t":9,"t2":14.5}]},
   "mark":{"type":"rect","filled":false,"stroke":"#707070","strokeWidth":1.5},
   "encoding":{
    "x":{"field":"f","type":"quantitative","scale":{"domain":[876,900],"nice":false,"zero":false},"axis":{"orient":"bottom","values":[880,885,890,895,900],"ticks":false,"labelPadding":14,"title":"Frequency [GHz]","titlePadding":26}},
    "x2":{"field":"f2"},
    "y":{"field":"t","type":"quantitative","scale":{"domain":[9,14.546],"nice":false,"zero":false},"axis":{"orient":"left","values":[9,10,11,12,13,14],"ticks":false,"labelPadding":11.5,"title":"Tʀ  [mK]","titlePadding":20}},
    "y2":{"field":"t2"}}},
  {"data":{"name":"leftCore"},
   "mark":{"type":"area","color":"#000000","opacity":1},
   "encoding":{
    "x":{"field":"f","type":"quantitative","scale":{"domain":[876,900],"nice":false,"zero":false},"axis":null},
    "y":{"field":"lo","type":"quantitative","scale":{"domain":[9,14.546],"nice":false,"zero":false},"axis":null},
    "y2":{"field":"hi"}}},
  {"data":{"name":"leftBand"},
   "mark":{"type":"area","color":"#000000","opacity":1},
   "encoding":{
    "x":{"field":"f","type":"quantitative","scale":{"domain":[876,900],"nice":false,"zero":false},"axis":{"orient":"bottom","values":[880,885,890,895,900],"labels":false,"tickSize":-20,"title":null}},
    "y":{"field":"lo","type":"quantitative","scale":{"domain":[9,14.546],"nice":false,"zero":false},"axis":{"orient":"left","values":[9,10,11,12,13,14],"labels":false,"tickSize":-20,"title":null}},
    "y2":{"field":"hi"}}},
  {"data":{"name":"leftBox"},
   "mark":{"type":"line","color":"#000000","strokeWidth":1.5},
   "encoding":{
    "x":{"field":"f","type":"quantitative","scale":{"domain":[876,900],"nice":false,"zero":false},"axis":{"orient":"top","offset":-4,"values":[880,885,890,895],"labels":false,"tickSize":-20,"title":null}},
    "y":{"field":"t","type":"quantitative","scale":{"domain":[9,14.546],"nice":false,"zero":false},"axis":{"orient":"right","values":[10,11,12,13,14],"labels":false,"tickSize":-20,"title":null}},
    "order":{"field":"i","type":"quantitative"}}},
  {"data":{"name":"leftArrows"},
   "mark":{"type":"rule","color":"#9c9c9c","strokeWidth":4.5,"xOffset":2,"x2Offset":2,"yOffset":3.5,"y2Offset":3.5},
   "encoding":{
    "x":{"field":"f","type":"quantitative","scale":{"domain":[876,900],"nice":false,"zero":false},"axis":{"orient":"top","offset":-4,"values":[877,878,879,880,881,882,883,884,885,886,887,888,889,890,891,892,893,894,895,896,897,898,899],"labels":false,"tickSize":-10,"title":null}},
    "x2":{"field":"f2"},
    "y":{"field":"t","type":"quantitative","scale":{"domain":[9,14.546],"nice":false,"zero":false},"axis":{"orient":"right","values":[9.2,9.4,9.6,9.8,10.2,10.4,10.6,10.8,11.2,11.4,11.6,11.8,12.2,12.4,12.6,12.8,13.2,13.4,13.6,13.8,14.2,14.4],"labels":false,"tickSize":-10,"title":null}},
    "y2":{"field":"t2"}}},
  {"data":{"name":"leftArrows"},
   "mark":{"type":"rule","color":"#ff6a00","strokeWidth":4.5},
   "encoding":{
    "x":{"field":"f","type":"quantitative","scale":{"domain":[876,900],"nice":false,"zero":false},"axis":{"orient":"bottom","values":[877,878,879,880,881,882,883,884,885,886,887,888,889,890,891,892,893,894,895,896,897,898,899],"labels":false,"tickSize":-10,"title":null}},
    "x2":{"field":"f2"},
    "y":{"field":"t","type":"quantitative","scale":{"domain":[9,14.546],"nice":false,"zero":false},"axis":{"orient":"left","values":[9.2,9.4,9.6,9.8,10.2,10.4,10.6,10.8,11.2,11.4,11.6,11.8,12.2,12.4,12.6,12.8,13.2,13.4,13.6,13.8,14.2,14.4],"labels":false,"tickSize":-10,"title":null}},
    "y2":{"field":"t2"}}},
  {"data":{"name":"leftHeads"},
   "mark":{"type":"point","filled":true,"color":"#9c9c9c","size":250,"strokeWidth":0,"opacity":1,"xOffset":2,"yOffset":3.5},
   "encoding":{
    "x":{"field":"f","type":"quantitative","scale":{"domain":[876,900],"nice":false,"zero":false},"axis":null},
    "y":{"field":"t","type":"quantitative","scale":{"domain":[9,14.546],"nice":false,"zero":false},"axis":null},
    "shape":{"field":"dir","type":"nominal","scale":{"domain":["up","left","right"],"range":["triangle-up","triangle-left","triangle-right"]},"legend":null}}},
  {"data":{"name":"leftHeads"},
   "mark":{"type":"point","filled":true,"color":"#ff6a00","size":250,"strokeWidth":0,"opacity":1},
   "encoding":{
    "x":{"field":"f","type":"quantitative","scale":{"domain":[876,900],"nice":false,"zero":false},"axis":null},
    "y":{"field":"t","type":"quantitative","scale":{"domain":[9,14.546],"nice":false,"zero":false},"axis":null},
    "shape":{"field":"dir","type":"nominal","scale":{"domain":["up","left","right"],"range":["triangle-up","triangle-left","triangle-right"]},"legend":null}}},
  {"data":{"values":[{"f":880.89,"t":13.923,"label":"CS"},{"f":893.686,"t":12.693,"label":"D2O"}]},
   "mark":{"type":"text","font":"DejaVu Sans","fontWeight":"bold","fontSize":17,"color":"#000000","align":"center","baseline":"alphabetic"},
   "encoding":{
    "x":{"field":"f","type":"quantitative","scale":{"domain":[876,900],"nice":false,"zero":false},"axis":null},
    "y":{"field":"t","type":"quantitative","scale":{"domain":[9,14.546],"nice":false,"zero":false},"axis":null},
    "text":{"field":"label"}}},
  {"data":{"values":[{"f":888.19,"t":13.635,"label":"LO"}]},
   "mark":{"type":"text","font":"Liberation Sans","fontSize":32,"color":"#000000","align":"left","baseline":"alphabetic"},
   "encoding":{
    "x":{"field":"f","type":"quantitative","scale":{"domain":[876,900],"nice":false,"zero":false},"axis":null},
    "y":{"field":"t","type":"quantitative","scale":{"domain":[9,14.546],"nice":false,"zero":false},"axis":null},
    "text":{"field":"label"}}},
  {"data":{"values":[{"f":881.02,"t":14.258,"label":"LSB"},{"f":887.3,"t":14.258,"label":"+"},{"f":892.98,"t":14.258,"label":"USB"}]},
   "mark":{"type":"text","font":"Liberation Sans","fontSize":74,"color":"#000099","align":"center","baseline":"alphabetic"},
   "encoding":{
    "x":{"field":"f","type":"quantitative","scale":{"domain":[876,900],"nice":false,"zero":false},"axis":null},
    "y":{"field":"t","type":"quantitative","scale":{"domain":[9,14.546],"nice":false,"zero":false},"axis":null},
    "text":{"field":"label"}}}
 ]
},
{
 "width":730,"height":483,
 "view":{"stroke":"#707070","strokeWidth":1.5},
 "resolve":{"axis":{"x":"independent","y":"independent"}},
 "layer":[
  {"data":{"name":"rightCore"},
   "mark":{"type":"area","color":"#000000","opacity":1},
   "encoding":{
    "x":{"field":"f","type":"quantitative","scale":{"domain":[891,897],"nice":false,"zero":false},"axis":null},
    "y":{"field":"lo","type":"quantitative","scale":{"domain":[21.5,25.5],"nice":false,"zero":false},"axis":null},
    "y2":{"field":"hi"}}},
  {"data":{"name":"rightBand"},
   "mark":{"type":"area","color":"#000000","opacity":1},
   "encoding":{
    "x":{"field":"f","type":"quantitative","scale":{"domain":[891,897],"nice":false,"zero":false},"axis":{"orient":"bottom","values":[891,892,893,894,895,896,897],"ticks":false,"labelPadding":14,"title":null}},
    "y":{"field":"lo","type":"quantitative","scale":{"domain":[21.5,25.5],"nice":false,"zero":false},"axis":{"orient":"left","values":[22,23,24,25],"ticks":false,"labelPadding":10.7,"title":"Tʀ  [mK]","titlePadding":12}},
    "y2":{"field":"hi"}}},
  {"data":{"name":"rightBox"},
   "mark":{"type":"line","color":"#000000","strokeWidth":1.5},
   "encoding":{
    "x":{"field":"f","type":"quantitative","scale":{"domain":[891,897],"nice":false,"zero":false},"axis":{"orient":"bottom","values":[892,893,894,895,896],"ticks":false,"labelPadding":52,"labelExpr":"'' + (1776 - datum.value)","title":"Frequency [GHz]","titlePadding":13}},
    "y":{"field":"t","type":"quantitative","scale":{"domain":[21.5,25.5],"nice":false,"zero":false},"axis":{"orient":"left","values":[22,23,24,25],"labels":false,"tickSize":-20,"title":null}},
    "order":{"field":"i","type":"quantitative"}}},
  {"data":{"values":[{"f":894.827,"t":25.13,"label":"CS"},{"f":893.636,"t":23.645,"label":"D2O"}]},
   "mark":{"type":"text","font":"DejaVu Sans","fontWeight":"bold","fontSize":17,"color":"#000000","align":"center","baseline":"alphabetic"},
   "encoding":{
    "x":{"field":"f","type":"quantitative","scale":{"domain":[891,897],"nice":false,"zero":false},"axis":{"orient":"bottom","values":[891,892,893,894,895,896,897],"labels":false,"tickSize":-20,"title":null}},
    "y":{"field":"t","type":"quantitative","scale":{"domain":[21.5,25.5],"nice":false,"zero":false},"axis":{"orient":"left","values":[21.6,21.8,22.2,22.4,22.6,22.8,23.2,23.4,23.6,23.8,24.2,24.4,24.6,24.8,25.2,25.4],"labels":false,"tickSize":-10,"title":null}},
    "text":{"field":"label"}}},
  {"data":{"values":[{"f":890.174,"t":25.293,"label":"="},{"f":893.29,"t":25.293,"label":"DSB"}]},
   "mark":{"type":"text","font":"Liberation Sans","fontSize":74,"color":"#000099","align":"center","baseline":"alphabetic"},
   "encoding":{
    "x":{"field":"f","type":"quantitative","scale":{"domain":[891,897],"nice":false,"zero":false},"axis":{"orient":"bottom","values":[891.2,891.4,891.6,891.8,892.2,892.4,892.6,892.8,893.2,893.4,893.6,893.8,894.2,894.4,894.6,894.8,895.2,895.4,895.6,895.8,896.2,896.4,896.6,896.8],"labels":false,"tickSize":-10,"title":null}},
    "y":{"field":"t","type":"quantitative","scale":{"domain":[21.5,25.5],"nice":false,"zero":false},"axis":{"orient":"right","values":[22,23,24,25],"labels":false,"tickSize":-20,"title":null}},
    "text":{"field":"label"}}},
  {"data":{"name":"redShaft"},
   "mark":{"type":"rect","color":"#9a9a9a","opacity":1,"xOffset":3,"x2Offset":3,"yOffset":4,"y2Offset":4},
   "encoding":{
    "x":{"field":"f","type":"quantitative","scale":{"domain":[891,897],"nice":false,"zero":false},"axis":{"orient":"top","values":[892,893,894,895,896],"labels":false,"tickSize":-20,"title":null}},
    "x2":{"field":"f2"},
    "y":{"field":"t","type":"quantitative","scale":{"domain":[21.5,25.5],"nice":false,"zero":false},"axis":{"orient":"right","values":[21.6,21.8,22.2,22.4,22.6,22.8,23.2,23.4,23.6,23.8,24.2,24.4,24.6,24.8,25.2,25.4],"labels":false,"tickSize":-10,"title":null}},
    "y2":{"field":"t2"}}},
  {"data":{"name":"redHead"},
   "mark":{"type":"point","shape":"M -1 -1 L 1 0 L -1 1 Z","filled":true,"color":"#9a9a9a","size":6084,"strokeWidth":0,"opacity":1,"xOffset":3,"yOffset":4},
   "encoding":{
    "x":{"field":"f","type":"quantitative","scale":{"domain":[891,897],"nice":false,"zero":false},"axis":{"orient":"top","values":[891.2,891.4,891.6,891.8,892.2,892.4,892.6,892.8,893.2,893.4,893.6,893.8,894.2,894.4,894.6,894.8,895.2,895.4,895.6,895.8,896.2,896.4,896.6,896.8],"labels":false,"tickSize":-10,"title":null}},
    "y":{"field":"t","type":"quantitative","scale":{"domain":[21.5,25.5],"nice":false,"zero":false},"axis":null}}},
  {"data":{"name":"redShaft"},
   "mark":{"type":"rect","color":"#ff0000","opacity":1},
   "encoding":{
    "x":{"field":"f","type":"quantitative","scale":{"domain":[891,897],"nice":false,"zero":false},"axis":null},
    "x2":{"field":"f2"},
    "y":{"field":"t","type":"quantitative","scale":{"domain":[21.5,25.5],"nice":false,"zero":false},"axis":null},
    "y2":{"field":"t2"}}},
  {"data":{"name":"redHead"},
   "mark":{"type":"point","shape":"M -1 -1 L 1 0 L -1 1 Z","filled":true,"color":"#ff0000","size":6084,"strokeWidth":0,"opacity":1},
   "encoding":{
    "x":{"field":"f","type":"quantitative","scale":{"domain":[891,897],"nice":false,"zero":false},"axis":null},
    "y":{"field":"t","type":"quantitative","scale":{"domain":[21.5,25.5],"nice":false,"zero":false},"axis":null}}}
 ]
}
]
}
